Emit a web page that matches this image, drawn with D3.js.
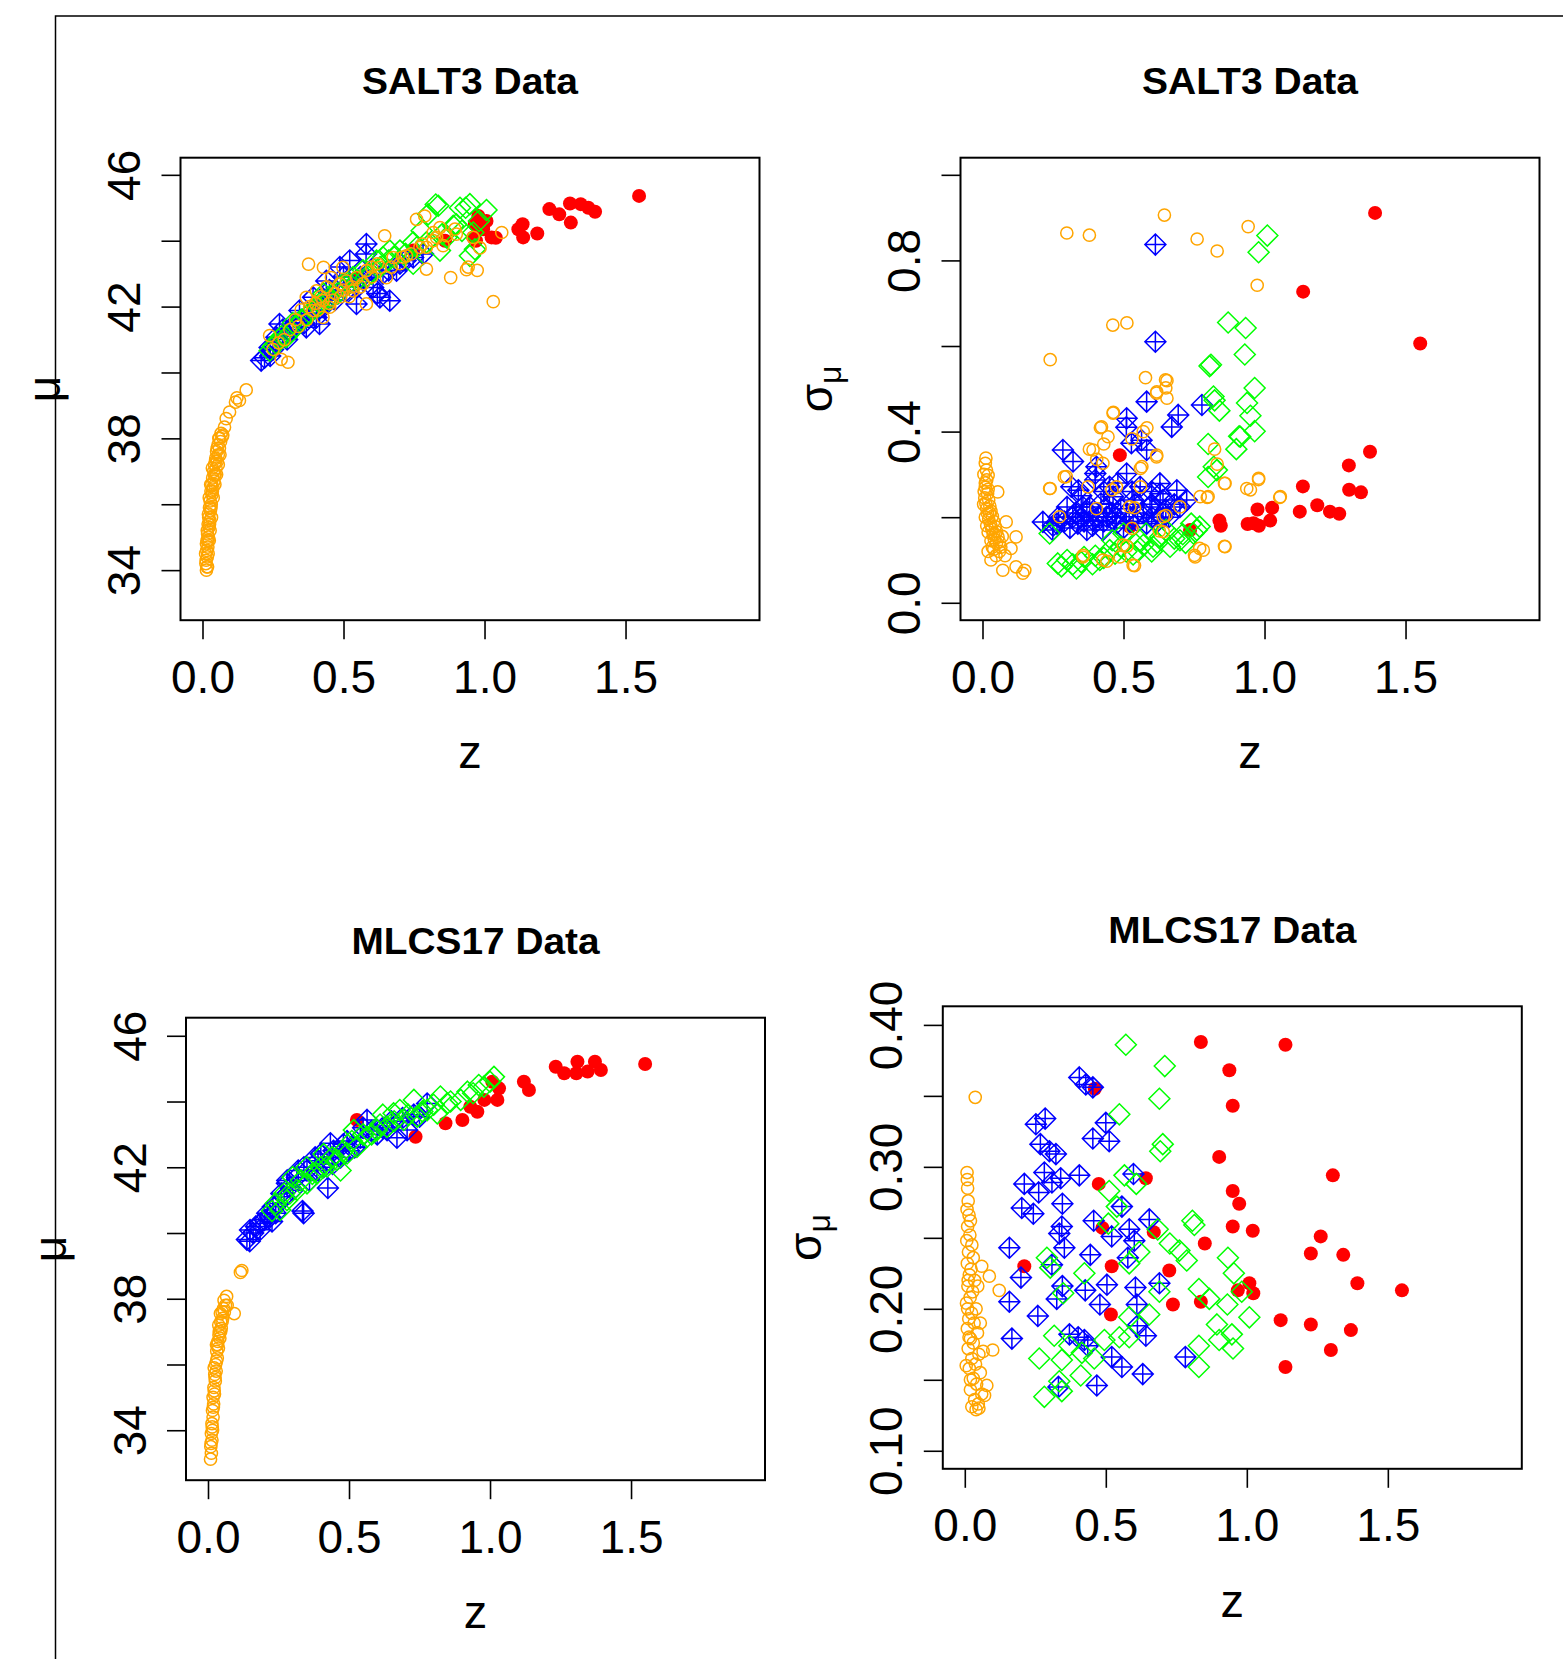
<!DOCTYPE html>
<html>
<head>
<meta charset="utf-8">
<script src="https://cdn.jsdelivr.net/npm/d3@7"></script>
<style>
  body { margin: 0; background: #fff; }
</style>
</head>
<body>
<div id="chart"></div>
<script>
// ---- data: [z, value] ----
const xTicks = [0, 0.5, 1.0, 1.5];
const muTicks = [34, 36, 38, 40, 42, 44, 46];
const muLabels = [34, 38, 42, 46];
const salt3SigTicks = [0, 0.2, 0.4, 0.6, 0.8, 1.0];
const salt3SigLabels = [0, 0.4, 0.8];
const mlcsSigTicks = [0.1, 0.15, 0.2, 0.25, 0.3, 0.35, 0.4];
const mlcsSigLabels = [0.1, 0.2, 0.3, 0.4];

// SALT3, mu vs z
const salt3MuOrange = [
  [0.014,34.0],[0.016,34.1],[0.013,34.3],[0.017,34.4],[0.015,34.6],[0.019,34.7],[0.016,34.9],[0.021,35.0],
  [0.018,35.1],[0.023,35.3],[0.02,35.4],[0.026,35.5],[0.022,35.6],[0.028,35.8],[0.025,35.9],[0.031,36.0],
  [0.027,36.1],[0.034,36.3],[0.03,36.4],[0.037,36.5],[0.033,36.6],[0.041,36.7],[0.036,36.8],[0.045,36.9],
  [0.04,37.0],[0.048,37.1],[0.043,37.2],[0.052,37.3],[0.047,37.4],[0.056,37.5],[0.05,37.6],[0.06,37.7],
  [0.055,37.8],[0.064,37.9],[0.06,38.0],[0.07,38.05],[0.066,38.15],[0.072,38.1],[0.078,38.34],[0.084,38.6],
  [0.096,38.8],[0.117,39.1],[0.122,39.23],[0.131,39.15],[0.155,39.47],
  [0.012,34.2],[0.02,34.5],[0.024,34.9],[0.027,35.2],[0.032,35.6],[0.038,36.2],[0.044,36.6],[0.05,36.9],
  [0.056,37.2],[0.062,37.5],[0.011,34.5],[0.014,34.8],[0.017,35.2],[0.021,35.7],[0.024,36.2],[0.029,36.6],
  [0.035,37.1],[0.018,34.1],[0.02,34.9],[0.025,35.4],[0.03,35.9],[0.035,36.4],[0.042,36.9],[0.046,37.3],
  [0.052,37.7],[0.058,38.0],
  [0.376,43.29],[0.646,44.15],[0.759,44.65],[0.788,44.75],[1.031,42.15],[0.88,42.88],[0.974,43.1],[0.942,43.2],
  [1.061,44.25],[0.984,43.78],[0.842,44.4],[0.865,44.15],[0.895,44.35],[0.818,44.25],[0.794,43.8],[0.818,44.0],
  [0.794,43.14],[0.581,42.08],[0.303,40.31],[0.238,41.12],[0.457,42.88],[0.498,43.19],[0.404,42.48],[0.427,42.18],
  [0.487,42.69],[0.546,42.88],[0.581,43.09],[0.629,43.19],[0.451,41.98],[0.392,41.88],[0.368,42.28],[0.427,41.67],
  [0.51,42.78],[0.534,42.48],[0.676,43.49],[0.723,43.54],[0.771,43.8],[0.853,43.85],[0.652,42.88],
  [0.33,41.6],[0.35,41.9],[0.42,42.3],[0.47,42.4],[0.5,42.5],[0.56,42.6],[0.6,42.9],[0.44,42.6],[0.38,42.0],
  [0.31,41.3],[0.27,40.9],[0.4,42.1],[0.46,42.2],[0.52,42.3],[0.62,43.3],[0.7,43.3],[0.74,43.6],
  [0.429,43.19],[0.279,40.4],[0.936,43.12],
  [0.25,40.7],[0.29,41.0],[0.34,41.4],[0.37,41.6],[0.41,41.9],[0.45,42.1],[0.49,42.3],[0.53,42.6],
  [0.57,42.7],[0.6,43.2],[0.67,43.2],[0.71,43.5],[0.78,43.9],[0.83,44.1],[0.9,44.2],[0.96,44.1]
];
const salt3MuBlue = [
  [0.208,40.36],[0.22,40.45],[0.238,40.76],[0.262,41.07],[0.273,41.47],[0.285,41.3],[0.309,41.27],[0.344,41.88],
  [0.368,41.37],[0.392,42.28],[0.404,41.67],[0.415,41.47],[0.439,42.78],[0.487,43.2],[0.51,42.48],[0.522,43.4],
  [0.546,42.08],[0.58,43.6],[0.581,43.9],[0.605,42.58],[0.629,42.28],[0.664,42.18],[0.688,43.09],[0.747,43.49],
  [0.782,43.6],[0.45,42.5],[0.47,42.2],[0.5,42.9],[0.56,42.9],[0.6,43.1],[0.35,41.6],[0.3,41.0],[0.25,40.7],
  [0.43,42.0],[0.55,42.6],[0.64,43.0],[0.7,43.3],[0.33,41.5],[0.62,42.4],
  [0.24,40.5],[0.26,40.9],[0.29,41.1],[0.32,41.3],[0.36,41.5],[0.38,41.8],[0.41,41.9],[0.44,42.2],
  [0.48,42.4],[0.52,42.7],[0.57,42.8],[0.66,43.1],[0.72,43.4]
];
const salt3MuGreen = [
  [1.007,44.93],[0.948,45.11],[0.913,45.0],[0.836,45.06],[0.8,44.8],[0.889,44.45],[0.96,44.25],[0.966,43.74],
  [0.948,43.54],[0.842,43.7],[0.794,43.95],[0.747,43.95],[0.7,43.7],[0.664,43.7],[0.64,43.5],[0.617,43.4],
  [0.569,43.1],[0.534,42.9],[0.487,42.6],[0.451,42.3],[0.415,42.1],[0.368,41.7],[0.333,41.4],[0.297,41.07],
  [0.262,40.87],[0.238,40.66],[0.747,43.3],[0.865,44.1],[0.777,44.3],[0.933,45.0],[0.827,45.1],
  [0.55,42.8],[0.6,43.0],[0.5,42.7],[0.43,42.4],[0.39,41.9],[0.32,41.5],[0.28,41.1],[0.68,43.5],[0.72,43.6],
  [0.92,44.3],[0.98,44.6],
  [0.25,40.8],[0.27,41.0],[0.31,41.2],[0.35,41.6],[0.38,41.8],[0.41,42.0],[0.45,42.2],[0.48,42.4],
  [0.52,42.7],[0.58,42.9],[0.63,43.2],[0.66,43.4],[0.76,43.8],[0.85,44.2],[0.9,44.5]
];
const salt3MuRed = [
  [1.548,45.36],[1.392,44.88],[1.368,45.0],[1.341,45.11],[1.303,45.13],[1.306,44.55],[1.265,44.8],[1.23,44.96],
  [1.187,44.22],[1.135,44.5],[1.12,44.35],[1.137,44.1],[0.978,44.75],[1.007,44.6],[1.025,44.1],[0.995,44.35],
  [0.966,44.5],[0.96,44.1],[0.747,43.7],[0.86,44.0],[0.55,42.9],[0.97,44.0],[1.04,44.09]
];

// SALT3, sigma_mu vs z
const salt3SigOrange = [
  [0.645,0.906],[0.299,0.864],[0.379,0.859],[0.761,0.85],[0.832,0.822],[0.942,0.879],[0.974,0.742],[0.462,0.649],
  [0.512,0.654],[0.24,0.568],[0.578,0.526],[0.649,0.521],[0.65,0.502],[0.618,0.493],[0.464,0.445],[0.418,0.409],
  [0.583,0.409],[0.53,0.383],[0.618,0.345],[0.823,0.359],[0.832,0.324],[0.858,0.279],[0.979,0.288],[0.95,0.264],
  [1.054,0.246],[0.797,0.246],[0.858,0.132],[0.752,0.111],[0.77,0.127],[0.539,0.087],[0.441,0.097],[0.512,0.132],
  [0.357,0.111],[0.24,0.267],[0.29,0.294],[0.379,0.359],[0.405,0.335],[0.43,0.371],[0.565,0.318],[0.539,0.222],
  [0.459,0.264],[0.53,0.174],[0.627,0.168],[0.65,0.204],
  [0.654,0.519],[0.654,0.478],[0.617,0.49],[0.463,0.443],[0.422,0.411],[0.445,0.388],[0.392,0.357],[0.427,0.326],
  [0.57,0.4],[0.617,0.341],[0.56,0.314],[0.297,0.295],[0.238,0.267],[0.374,0.271],[0.404,0.22],[0.522,0.224],
  [0.56,0.271],[0.475,0.271],[0.273,0.201],[0.641,0.201],[0.7,0.224],[0.772,0.248],[0.8,0.248],[0.86,0.279],
  [0.937,0.267],[0.979,0.291],[1.056,0.248],[0.86,0.131],[0.783,0.123],[0.754,0.107],[0.641,0.166],[0.534,0.088],
  [0.499,0.135],[0.487,0.107],[0.427,0.1],[0.356,0.107],
  [0.012,0.338],[0.01,0.326],[0.014,0.31],[0.02,0.298],[0.015,0.287],[0.054,0.259],[0.01,0.27],[0.018,0.255],
  [0.008,0.245],[0.022,0.24],[0.012,0.232],[0.026,0.226],[0.015,0.22],[0.03,0.214],[0.018,0.208],[0.035,0.202],
  [0.022,0.196],[0.04,0.19],[0.028,0.184],[0.045,0.178],[0.033,0.172],[0.05,0.166],[0.038,0.16],[0.055,0.154],
  [0.042,0.148],[0.06,0.142],[0.084,0.189],[0.119,0.154],[0.101,0.127],[0.03,0.1],[0.072,0.076],[0.119,0.084],
  [0.143,0.069],[0.15,0.076],[0.048,0.11],[0.065,0.13],[0.04,0.125],[0.07,0.155],
  [0.005,0.3],[0.01,0.28],[0.006,0.26],[0.02,0.265],[0.004,0.23],[0.025,0.21],[0.01,0.2],[0.03,0.18],
  [0.015,0.18],[0.045,0.16],[0.02,0.165],[0.05,0.14],[0.03,0.145],[0.06,0.12],[0.035,0.13],[0.08,0.11],[0.02,0.12]
];
const salt3SigBlue = [
  [0.582,0.47],[0.694,0.439],[0.671,0.411],[0.778,0.462],[0.511,0.431],[0.51,0.41],[0.564,0.38],[0.582,0.357],
  [0.528,0.373],[0.285,0.357],[0.321,0.33],[0.404,0.318],[0.4,0.302],[0.315,0.271],[0.34,0.263],[0.214,0.189],
  [0.249,0.17],[0.264,0.185],[0.511,0.302],[0.629,0.279],[0.689,0.263],[0.64,0.24],[0.7,0.224],[0.594,0.224],
  [0.534,0.24],[0.463,0.248],[0.42,0.232],[0.356,0.224],[0.44,0.201],[0.392,0.193],[0.338,0.185],[0.32,0.2],
  [0.475,0.185],[0.534,0.201],[0.582,0.185],[0.64,0.2],[0.65,0.217],[0.427,0.17],[0.37,0.17],[0.38,0.224],
  [0.45,0.271],[0.559,0.271],[0.63,0.255],[0.3,0.224],[0.724,0.24],[0.4,0.287],[0.51,0.21],[0.613,0.837],
  [0.613,0.61],[0.29,0.19],[0.46,0.21],[0.55,0.19],[0.6,0.2],[0.36,0.19],[0.5,0.175],
  [0.25,0.18],[0.27,0.2],[0.31,0.175],[0.33,0.21],[0.35,0.2],[0.37,0.21],[0.39,0.18],[0.41,0.2],
  [0.43,0.19],[0.45,0.23],[0.47,0.2],[0.49,0.22],[0.52,0.19],[0.54,0.23],[0.57,0.21],[0.6,0.23],
  [0.62,0.19],[0.66,0.2],[0.68,0.23],[0.35,0.25],[0.43,0.26],[0.48,0.28],[0.53,0.26],[0.6,0.26]
];
const salt3SigGreen = [
  [1.01,0.858],[0.979,0.819],[0.871,0.655],[0.933,0.642],[0.93,0.58],[0.805,0.553],[0.81,0.556],[0.965,0.502],
  [0.823,0.473],[0.938,0.467],[0.84,0.449],[0.95,0.437],[0.965,0.401],[0.91,0.389],[0.8,0.371],[0.9,0.359],
  [0.82,0.318],[0.8,0.294],[0.819,0.482],[0.914,0.388],[0.831,0.31],
  [0.267,0.092],[0.3,0.1],[0.333,0.08],[0.36,0.107],[0.416,0.1],[0.451,0.123],[0.49,0.131],[0.534,0.113],
  [0.558,0.146],[0.605,0.131],[0.63,0.154],[0.665,0.131],[0.7,0.146],[0.748,0.162],[0.77,0.178],[0.74,0.185],
  [0.5,0.162],[0.46,0.146],[0.238,0.162],[0.65,0.17],[0.58,0.162],[0.39,0.09],[0.55,0.12],[0.72,0.14],
  [0.28,0.085],[0.32,0.09],[0.35,0.095],[0.4,0.11],[0.43,0.105],[0.47,0.115],[0.51,0.12],[0.57,0.135],
  [0.6,0.12],[0.62,0.14],[0.68,0.15],[0.71,0.16],[0.76,0.17]
];
const salt3SigRed = [
  [1.392,0.911],[1.137,0.727],[1.552,0.606],[1.374,0.353],[1.299,0.321],[1.136,0.272],[1.3,0.264],[1.342,0.258],
  [1.187,0.228],[1.232,0.213],[1.265,0.208],[1.125,0.213],[1.027,0.222],[0.975,0.218],[1.02,0.192],[0.98,0.18],
  [0.94,0.184],[0.84,0.192],[0.845,0.18],[0.736,0.17],[0.487,0.345],[0.522,0.178],[0.961,0.186]
];

// MLCS17, mu vs z
const mlcsMuOrange = [
  [0.009,33.12],[0.012,33.3],[0.01,33.5],[0.014,33.7],[0.012,33.9],[0.016,34.0],[0.014,34.2],[0.018,34.4],
  [0.016,34.6],[0.02,34.8],[0.018,35.0],[0.023,35.1],[0.021,35.3],[0.026,35.5],[0.024,35.7],[0.029,35.8],
  [0.027,36.0],[0.033,36.2],[0.031,36.4],[0.037,36.5],[0.035,36.7],[0.042,36.8],[0.04,37.0],[0.047,37.1],
  [0.045,37.3],[0.052,37.4],[0.05,37.6],[0.058,37.6],[0.062,37.8],[0.066,38.07],[0.068,37.8],[0.093,37.55],
  [0.12,38.86],[0.115,38.8],[0.057,37.95],[0.022,35.9],[0.03,36.6],[0.038,37.2],[0.044,37.55],
  [0.011,33.6],[0.015,34.1],[0.019,34.7],[0.022,35.2],[0.025,35.6],[0.03,36.1],[0.034,36.6],[0.039,36.9],
  [0.045,37.0],[0.05,37.3],[0.055,37.7]
];
const mlcsMuBlue = [
  [0.149,40.09],[0.185,40.29],[0.22,40.49],[0.23,40.8],[0.28,41.51],[0.339,40.6],[0.386,41.91],[0.434,42.73],
  [0.445,42.5],[0.39,42.2],[0.351,41.9],[0.493,42.8],[0.564,43.44],[0.55,43.2],[0.635,43.13],[0.67,42.9],
  [0.706,43.13],[0.75,43.54],[0.777,43.94],[0.315,41.7],[0.27,41.1],[0.185,40.1],[0.138,39.8],[0.148,39.75],
  [0.227,40.35],[0.335,40.67],[0.425,41.37],[0.281,41.6],[0.442,42.1],[0.2,40.4],[0.25,40.9],[0.3,41.3],
  [0.36,41.6],[0.41,42.0],[0.47,42.3],[0.52,42.6],[0.6,43.0],
  [0.16,40.0],[0.17,40.2],[0.21,40.6],[0.24,40.6],[0.26,41.2],[0.29,41.4],[0.32,41.9],[0.34,42.0],
  [0.38,42.3],[0.4,42.4],[0.44,42.3],[0.48,42.7],[0.5,42.5],[0.54,42.9],[0.58,43.1],[0.62,43.2],
  [0.65,43.4],[0.69,43.5],[0.73,43.6]
];
const mlcsMuGreen = [
  [1.014,44.75],[0.978,44.45],[0.94,44.25],[0.896,44.05],[0.848,43.94],[0.813,43.64],[0.777,43.74],[0.742,43.54],
  [0.694,43.44],[0.658,43.64],[0.635,43.23],[0.599,43.13],[0.564,42.93],[0.528,42.62],[0.493,42.42],[0.457,42.22],
  [0.422,42.02],[0.386,41.81],[0.351,41.51],[0.315,41.31],[0.28,41.0],[0.256,40.7],[0.68,43.74],[0.62,43.6],
  [0.73,44.05],[0.824,44.15],[0.517,43.13],[0.41,42.4],[0.35,42.0],[0.3,41.7],[0.47,41.9],[0.227,40.67],
  [0.24,40.9],[0.27,41.2],[0.29,41.2],[0.33,41.6],[0.37,41.8],[0.4,42.0],[0.44,42.3],[0.48,42.5],
  [0.51,42.8],[0.55,43.0],[0.58,43.0],[0.61,43.3],[0.66,43.4],[0.71,43.6],[0.76,43.7],[0.8,43.9],
  [0.86,44.0],[0.92,44.3],[0.96,44.5],[1.0,44.6]
];
const mlcsMuRed = [
  [1.55,45.14],[1.393,44.96],[1.372,45.21],[1.346,44.91],[1.31,45.21],[1.306,44.86],[1.263,44.86],[1.233,45.06],
  [1.138,44.35],[1.12,44.6],[1.026,44.05],[1.032,44.4],[1.008,44.6],[0.955,43.69],[0.902,43.44],[0.842,43.34],
  [0.528,43.44],[0.736,42.93],[0.93,43.84],[0.98,44.05]
];

// MLCS17, sigma_mu vs z
const mlcsSigOrange = [
  [0.008,0.296],[0.009,0.291],[0.01,0.285],[0.012,0.276],[0.015,0.266],[0.02,0.262],[0.01,0.258],[0.018,0.252],
  [0.007,0.248],[0.025,0.245],[0.013,0.24],[0.03,0.236],[0.009,0.232],[0.022,0.228],[0.016,0.224],[0.035,0.22],
  [0.011,0.216],[0.028,0.212],[0.019,0.208],[0.006,0.204],[0.04,0.2],[0.024,0.197],[0.014,0.193],[0.033,0.19],
  [0.009,0.186],[0.045,0.183],[0.02,0.179],[0.03,0.176],[0.012,0.172],[0.05,0.168],[0.025,0.165],[0.038,0.161],
  [0.016,0.158],[0.055,0.155],[0.03,0.151],[0.042,0.147],[0.02,0.143],[0.06,0.14],[0.035,0.136],[0.048,0.133],
  [0.025,0.131],[0.04,0.129],[0.037,0.349],[0.122,0.213],[0.087,0.223],[0.06,0.23],[0.046,0.216],[0.099,0.171],
  [0.078,0.146],[0.05,0.13],[0.07,0.139],[0.065,0.17],[0.055,0.19],[0.008,0.27],[0.012,0.22],[0.01,0.2],
  [0.015,0.18],[0.005,0.16],[0.02,0.15]
];
const mlcsSigBlue = [
  [0.406,0.363],[0.429,0.358],[0.454,0.356],[0.252,0.33],[0.285,0.334],[0.5,0.331],[0.454,0.32],[0.512,0.318],
  [0.3,0.311],[0.323,0.309],[0.268,0.316],[0.406,0.294],[0.282,0.296],[0.598,0.295],[0.309,0.289],[0.211,0.288],
  [0.34,0.292],[0.262,0.282],[0.346,0.274],[0.202,0.271],[0.243,0.267],[0.457,0.262],[0.521,0.251],[0.654,0.263],
  [0.344,0.258],[0.335,0.253],[0.158,0.243],[0.353,0.243],[0.557,0.272],[0.583,0.256],[0.601,0.248],[0.445,0.238],
  [0.309,0.231],[0.199,0.222],[0.578,0.236],[0.69,0.218],[0.504,0.217],[0.427,0.213],[0.346,0.216],[0.605,0.215],
  [0.326,0.207],[0.158,0.205],[0.479,0.203],[0.61,0.203],[0.259,0.195],[0.612,0.188],[0.642,0.181],[0.371,0.182],
  [0.402,0.18],[0.424,0.178],[0.167,0.179],[0.436,0.174],[0.521,0.166],[0.557,0.159],[0.782,0.166],[0.631,0.154],
  [0.332,0.145],[0.468,0.146]
];
const mlcsSigGreen = [
  [0.571,0.386],[0.709,0.371],[0.69,0.348],[0.548,0.337],[0.702,0.316],[0.693,0.311],[0.566,0.294],[0.608,0.288],
  [0.512,0.283],[0.539,0.272],[0.807,0.262],[0.814,0.259],[0.684,0.256],[0.727,0.246],[0.761,0.241],[0.787,0.234],
  [0.291,0.236],[0.509,0.26],[0.933,0.236],[0.619,0.24],[0.303,0.229],[0.349,0.211],[0.424,0.225],[0.583,0.232],
  [0.83,0.214],[0.954,0.225],[0.867,0.207],[0.931,0.203],[0.982,0.212],[0.69,0.212],[0.583,0.194],[0.654,0.196],
  [1.009,0.194],[0.894,0.189],[0.947,0.182],[0.902,0.178],[0.951,0.172],[0.83,0.174],[0.83,0.159],[0.317,0.181],
  [0.371,0.174],[0.264,0.165],[0.415,0.169],[0.459,0.165],[0.495,0.178],[0.548,0.18],[0.583,0.18],[0.344,0.164],
  [0.411,0.153],[0.282,0.138],[0.344,0.142],[0.335,0.149]
];
const mlcsSigRed = [
  [0.837,0.388],[1.137,0.386],[0.938,0.368],[0.95,0.343],[0.461,0.355],[0.902,0.307],[1.305,0.294],[0.642,0.292],
  [0.95,0.283],[0.973,0.274],[0.475,0.288],[0.95,0.258],[1.021,0.255],[1.262,0.251],[0.851,0.246],[1.227,0.239],
  [1.342,0.238],[0.488,0.257],[0.67,0.254],[0.211,0.23],[0.521,0.23],[0.725,0.227],[1.392,0.218],[1.009,0.218],
  [1.55,0.213],[0.968,0.213],[1.023,0.211],[0.738,0.203],[0.837,0.205],[0.518,0.196],[1.12,0.192],[1.227,0.189],
  [1.369,0.185],[1.298,0.171],[1.137,0.159]
];

// ---- layout ----
const width = 1563;
const height = 1659;
const boxW = 579;
const boxH = 462.5;
const xDomain = [-0.078, 1.975];
const font = '"Liberation Sans", Arial, Helvetica, sans-serif';

const panels = [
  {
    title: "SALT3 Data", titleLen: 216, left: 180.5, top: 157.7,
    yDomain: [32.48, 46.52], yTicks: muTicks, yLabels: muLabels, yFormat: d3.format("d"),
    ylab: "mu", ylabX: -120.5,
    orange: salt3MuOrange, blue: salt3MuBlue, green: salt3MuGreen, red: salt3MuRed,
  },
  {
    title: "SALT3 Data", titleLen: 216, left: 960.5, top: 157.7,
    yDomain: [-0.0407, 1.04], yTicks: salt3SigTicks, yLabels: salt3SigLabels, yFormat: d3.format(".1f"),
    ylab: "sigma", ylabX: -128.5,
    orange: salt3SigOrange, blue: salt3SigBlue, green: salt3SigGreen, red: salt3SigRed,
  },
  {
    title: "MLCS17 Data", titleLen: 248, left: 186, top: 1017.7,
    yDomain: [32.48, 46.55], yTicks: muTicks, yLabels: muLabels, yFormat: d3.format("d"),
    ylab: "mu", ylabX: -120.5,
    orange: mlcsMuOrange, blue: mlcsMuBlue, green: mlcsMuGreen, red: mlcsMuRed,
  },
  {
    title: "MLCS17 Data", titleLen: 248, left: 942.8, top: 1006.3,
    yDomain: [0.0873, 0.4131], yTicks: mlcsSigTicks, yLabels: mlcsSigLabels, yFormat: d3.format(".2f"),
    ylab: "sigma", ylabX: -121.5,
    orange: mlcsSigOrange, blue: mlcsSigBlue, green: mlcsSigGreen, red: mlcsSigRed,
  },
];

const svg = d3
  .select("#chart")
  .append("svg")
  .attr("width", width)
  .attr("height", height)
  .style("display", "block");

svg.append("rect").attr("width", width).attr("height", height).attr("fill", "#fff");

// outer frame of the original page
svg
  .append("path")
  .attr("d", `M55.5,${height}V16H${width}`)
  .attr("fill", "none")
  .attr("stroke", "#000")
  .attr("stroke-width", 1.5);

const diamondPath = (r) => `M0,${-r}L${r},0L0,${r}L${-r},0Z`;
const diamondPlusPath = (r) => diamondPath(r) + `M0,${-r}V${r}M${-r},0H${r}`;

const drawPanel = (p) => {
  const g = svg.append("g").attr("transform", `translate(${p.left},${p.top})`);
  const x = d3.scaleLinear().domain(xDomain).range([0, boxW]);
  const y = d3.scaleLinear().domain(p.yDomain).range([boxH, 0]);
  const at = (d) => `translate(${x(d[0])},${y(d[1])})`;

  const marks = g.append("g");
  marks
    .selectAll(".red")
    .data(p.red)
    .join("circle")
    .attr("class", "red")
    .attr("cx", (d) => x(d[0]))
    .attr("cy", (d) => y(d[1]))
    .attr("r", 7)
    .attr("fill", "#ff0000");
  marks
    .selectAll(".blue")
    .data(p.blue)
    .join("path")
    .attr("class", "blue")
    .attr("transform", at)
    .attr("d", diamondPlusPath(10.5))
    .attr("fill", "none")
    .attr("stroke", "#0000ff")
    .attr("stroke-width", 1.5);
  marks
    .selectAll(".green")
    .data(p.green)
    .join("path")
    .attr("class", "green")
    .attr("transform", at)
    .attr("d", diamondPath(10.5))
    .attr("fill", "none")
    .attr("stroke", "#00ff00")
    .attr("stroke-width", 1.5);
  marks
    .selectAll(".orange")
    .data(p.orange)
    .join("circle")
    .attr("class", "orange")
    .attr("cx", (d) => x(d[0]))
    .attr("cy", (d) => y(d[1]))
    .attr("r", 6.1)
    .attr("fill", "none")
    .attr("stroke", "#ffa500")
    .attr("stroke-width", 1.5);

  // x axis
  const gx = g
    .append("g")
    .attr("transform", `translate(0,${boxH})`)
    .call(
      d3.axisBottom(x).tickValues(xTicks).tickFormat(d3.format(".1f")).tickSize(19).tickPadding(21)
    );
  gx.select(".domain").remove();
  gx.selectAll(".tick line").attr("stroke", "#000").attr("stroke-width", 1.6);
  gx.selectAll(".tick text")
    .attr("fill", "#000")
    .style("font-family", font)
    .style("font-size", "46px");

  // y axis, labels turned like R's default
  const isLabel = (d) => p.yLabels.some((l) => Math.abs(l - d) < 1e-9);
  const gy = g
    .append("g")
    .call(
      d3.axisLeft(y).tickValues(p.yTicks).tickSize(19).tickFormat((d) => (isLabel(d) ? p.yFormat(d) : ""))
    );
  gy.select(".domain").remove();
  gy.selectAll(".tick line").attr("stroke", "#000").attr("stroke-width", 1.6);
  gy.selectAll(".tick text")
    .attr("x", null)
    .attr("dy", null)
    .attr("text-anchor", "middle")
    .attr("transform", "translate(-40.5,0) rotate(-90)")
    .attr("fill", "#000")
    .style("font-family", font)
    .style("font-size", "46px");

  // box
  g.append("rect")
    .attr("width", boxW)
    .attr("height", boxH)
    .attr("fill", "none")
    .attr("stroke", "#000")
    .attr("stroke-width", 2);

  // title
  g.append("text")
    .attr("x", boxW / 2)
    .attr("y", -63.3)
    .attr("text-anchor", "middle")
    .attr("textLength", p.titleLen)
    .attr("lengthAdjust", "spacingAndGlyphs")
    .style("font-family", font)
    .style("font-weight", "bold")
    .style("font-size", "36px")
    .text(p.title);

  // x label
  g.append("text")
    .attr("x", boxW / 2)
    .attr("y", boxH + 148)
    .attr("text-anchor", "middle")
    .style("font-family", font)
    .style("font-size", "47px")
    .text("z");

  // y label
  const yl = g
    .append("text")
    .attr("transform", `translate(${p.ylabX},${boxH / 2}) rotate(-90)`)
    .attr("text-anchor", "middle")
    .style("font-family", font)
    .style("font-size", "46px");
  if (p.ylab === "mu") {
    yl.text("μ");
  } else {
    yl.append("tspan").text("σ");
    yl.append("tspan").attr("dy", 9).style("font-size", "32px").text("μ");
  }
};

panels.forEach(drawPanel);
</script>
</body>
</html>
